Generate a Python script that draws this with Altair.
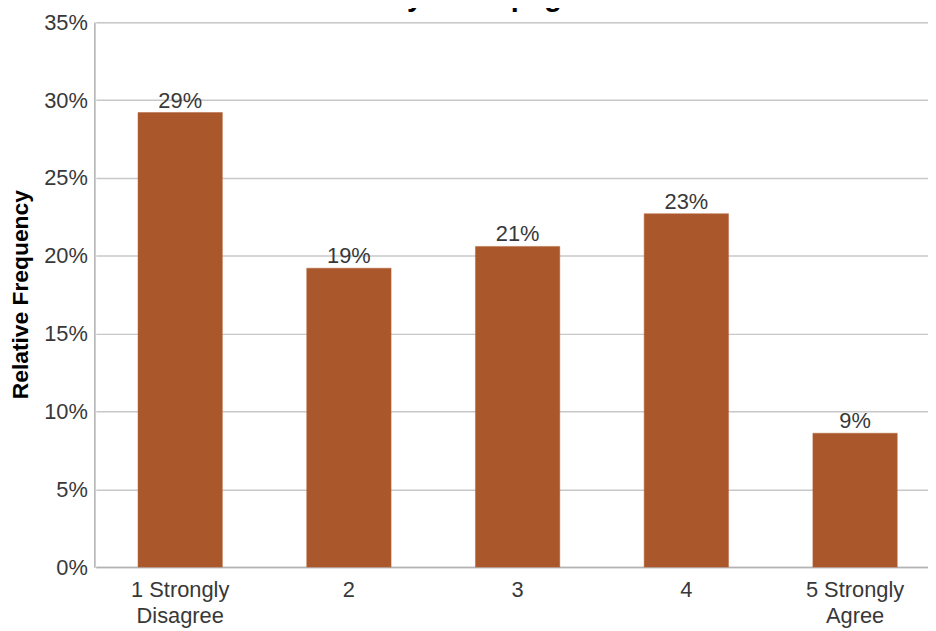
import altair as alt
import pandas as pd

categories = ["1 Strongly\nDisagree", "2", "3", "4", "5 Strongly\nAgree"]
values = [0.292, 0.192, 0.206, 0.227, 0.086]
title_text = "A.A. Library Homepage: Pretest"
y_ticks = [0, 0.05, 0.10, 0.15, 0.20, 0.25, 0.30, 0.35]

df = pd.DataFrame({"cat": categories, "val": values})

FONT = "Liberation Sans"
BAR = "#a9572b"
TXT = "#383838"

x_enc = alt.X(
    "cat:N",
    sort=categories,
    scale=alt.Scale(range=[1.5, 851.5], paddingInner=0.5, paddingOuter=0.25),
    axis=alt.Axis(
        title=None,
        labelAngle=0,
        labelExpr="split(datum.label, '\\n')",
        labelFontSize=22,
        labelFont=FONT,
        labelColor=TXT,
        labelLineHeight=26,
        labelPadding=13,
        labelBaseline="top",
        ticks=False,
        domainColor="#b3b3b3",
        domainWidth=1.5,
        grid=False,
    ),
)

y_enc = alt.Y(
    "val:Q",
    scale=alt.Scale(domain=[0, 0.35], nice=False),
    axis=alt.Axis(
        title="Relative Frequency",
        titleFont=FONT,
        titleFontSize=23,
        titleFontWeight="bold",
        titleColor="#000000",
        titleAngle=-90,
        titleX=-74,
        titleY=274,
        titleAlign="center",
        titleBaseline="middle",
        values=y_ticks,
        format=".0%",
        labelFontSize=22,
        labelFont=FONT,
        labelColor=TXT,
        labelPadding=7,
        ticks=False,
        domainColor="#b3b3b3",
        domainWidth=1.5,
        gridColor="#c8c8c8",
        gridWidth=1.5,
    ),
)

bars = alt.Chart(df).mark_bar(color=BAR, stroke="#b8663a", strokeWidth=0.5).encode(
    x=x_enc, y=y_enc
)

labels = alt.Chart(df).mark_text(
    baseline="bottom", dy=0, fontSize=22, font=FONT, color=TXT
).encode(
    x=alt.X("cat:N", sort=categories),
    y=alt.Y("val:Q"),
    text=alt.Text("val:Q", format=".0%"),
)

chart = (
    alt.layer(bars, labels)
    .properties(
        width=840,
        height=549,
        autosize=alt.AutoSizeParams(type="none"),
        padding={"left": 87, "top": 12, "right": 0, "bottom": 60},
        title=alt.TitleParams(
            text=title_text,
            font=FONT,
            fontSize=29,
            fontWeight="bold",
            color="#000000",
            frame="group",
            anchor="middle",
            baseline="alphabetic",
            offset=-24,
            dx=-35,
        ),
    )
    .configure_view(stroke=None)
    .configure(background="white")
)

chart.save("out.html", embed_options={"renderer": "svg", "actions": False})
